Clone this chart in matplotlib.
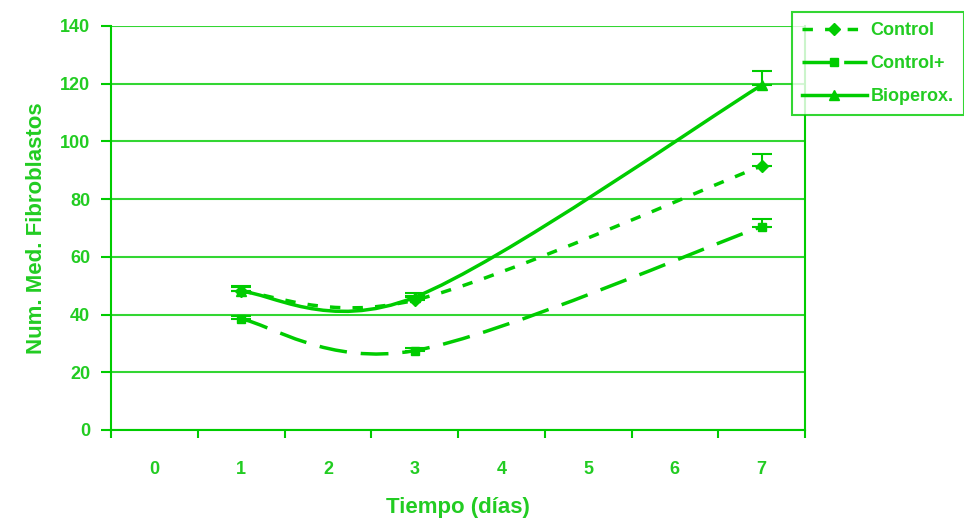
import matplotlib
matplotlib.use("Agg")
import matplotlib.pyplot as plt
from matplotlib.path import Path
from matplotlib.patches import PathPatch
from matplotlib.lines import Line2D
import numpy as np

plt.rcParams['font.family'] = ['Liberation Sans', 'DejaVu Sans']

# ---- data ----
days = [1, 3, 7]
control = [48, 45, 91.5]
control_err = [1.5, 1.5, 4]
control_plus = [38.5, 27.5, 70.5]
control_plus_err = [1, 1, 2.5]
bioperox = [48, 46, 119.5]
bioperox_err = [2, 1.5, 5]
x_labels = ['0', '1', '2', '3', '4', '5', '6', '7']
y_ticks = [0, 20, 40, 60, 80, 100, 120, 140]

GREEN = '#00CC00'
TXT = '#22CC22'

fig = plt.figure(figsize=(9.64, 5.19), dpi=100)
ax = fig.add_axes([111/964, 89/519, (805-111)/964, (430-26)/519])


def smooth_path(xs, ys):
    pts = np.column_stack([xs, ys]).astype(float)
    verts = [pts[0]]
    codes = [Path.MOVETO]
    n = len(pts)
    for i in range(n - 1):
        p0 = pts[i - 1] if i > 0 else pts[i]
        p1 = pts[i]
        p2 = pts[i + 1]
        p3 = pts[i + 2] if i + 2 < n else pts[i + 1]
        c1 = p1 + (p2 - p0) / 6.0
        c2 = p2 - (p3 - p1) / 6.0
        verts += [c1, c2, p2]
        codes += [Path.CURVE4] * 3
    return Path(verts, codes)


series = [
    ('Control', control, control_err, 'D', (0, (3, 3.5)), 6),
    ('Control+', control_plus, control_plus_err, 's', (0, (8, 4)), 6),
    ('Bioperox.', bioperox, bioperox_err, '^', '-', 7),
]

handles = []
for name, vals, err, mk, ls, ms in series:
    patch = PathPatch(smooth_path(days, vals), facecolor='none', edgecolor=GREEN,
                      linewidth=2.5, linestyle=ls, capstyle='butt', zorder=3)
    ax.add_patch(patch)
    ax.errorbar(days, vals, yerr=[np.zeros(len(err)), err], fmt=mk, color=GREEN,
                markersize=ms, ecolor=GREEN, elinewidth=1.5, capsize=7,
                capthick=1.5, zorder=4)
    handles.append(Line2D([0], [0], color=GREEN, linewidth=2.5, linestyle=ls,
                          marker=mk, markersize=ms))

ax.set_xlim(-0.5, 7.5)
ax.set_ylim(0, 140)
ax.set_yticks(y_ticks)
ax.set_yticklabels([str(v) for v in y_ticks])
ax.set_xticks(range(len(x_labels)))
ax.set_xticklabels(x_labels)
ax.set_xticks(np.arange(-0.5, 7.6, 1.0), minor=True)
ax.tick_params(axis='x', which='major', length=0, pad=22, labelsize=13,
               labelcolor=TXT)
ax.tick_params(axis='x', which='minor', length=6, width=1.5, color=GREEN,
               direction='out')
ax.tick_params(axis='y', length=7, width=1.5, color=GREEN, labelsize=13,
               labelcolor=TXT, pad=8)
for lab in ax.get_xticklabels() + ax.get_yticklabels():
    lab.set_fontweight('bold')

ax.grid(axis='y', color=GREEN, linewidth=1.5, alpha=0.8)
ax.set_axisbelow(True)
for side in ['left', 'bottom', 'right']:
    ax.spines[side].set_color(GREEN)
    ax.spines[side].set_linewidth(1.5)
ax.spines['top'].set_visible(False)

ax.set_xlabel('Tiempo (días)', fontsize=16, fontweight='bold', color=TXT,
              labelpad=14)
ax.set_ylabel('Num. Med. Fibroblastos', fontsize=16, fontweight='bold',
              color=TXT, labelpad=9)

leg = fig.legend(handles, [s[0] for s in series], loc='upper left',
                 bbox_to_anchor=(792/964, 1 - 12/519), frameon=True,
                 fancybox=False, edgecolor=GREEN, handlelength=3.6,
                 handletextpad=0.2, borderpad=0.55, labelspacing=0.9,
                 borderaxespad=0,
                 prop={'weight': 'bold', 'size': 13})
leg.get_frame().set_linewidth(1.5)
for t in leg.get_texts():
    t.set_color(TXT)

fig.savefig('out.png', dpi=100)
